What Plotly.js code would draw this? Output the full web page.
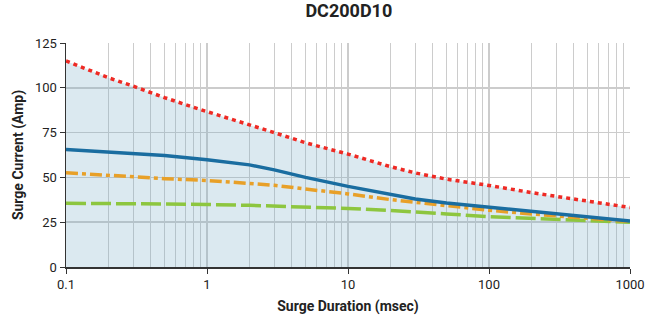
<!DOCTYPE html>
<html><head><meta charset="utf-8">
<script src="https://cdn.plot.ly/plotly-3.0.1.min.js"></script>
<style>html,body{margin:0;padding:0;background:#fff}#c{width:646px;height:324px}</style>
</head><body><div id="c"></div>
<script>
const duration = [0.1, 0.2, 0.3, 0.5, 1, 2, 3, 5, 10, 20, 30, 50, 100, 200, 300, 500, 1000];
const redMax   = [115, 105.6, 100.9, 94.5, 86.7, 79.5, 75, 69.3, 63, 56, 52.5, 49, 45.5, 41.5, 39.3, 36.6, 33.2];
const blueCur  = [65.6, 64.2, 63.4, 62.2, 59.8, 57, 54.2, 50, 45, 40.3, 38, 35.7, 33.4, 31.2, 29.9, 28, 25.6];
const orangeCur= [52.6, 51, 50.2, 49.3, 48.3, 46.8, 45.6, 43.5, 40.8, 37.6, 36, 34, 31.7, 29.6, 28.5, 27, 25.4];
const greenCur = [35.6, 35.5, 35.3, 35.1, 34.9, 34.4, 34, 33.4, 32.7, 31.5, 30.8, 29.6, 28.1, 27.2, 26.7, 26, 25];
const xTicks = [0.1, 1, 10, 100, 1000];
const xTickText = ['0.1', '1', '10', '100', '1000'];
const yTicks = [0, 25, 50, 75, 100, 125];

const FONT = 'Roboto, sans-serif';
const traces = [
  {x: duration, y: redMax, mode: 'lines', fill: 'tozeroy', fillcolor: 'rgba(111,167,195,0.25)',
   line: {color: '#ee2a24', width: 3.5, dash: '4px,4px'}},
  {x: duration, y: greenCur, mode: 'lines',
   line: {color: '#8dc63f', width: 3.5, dash: '20px,5px'}},
  {x: duration, y: orangeCur, mode: 'lines',
   line: {color: '#e8a028', width: 3.5, dash: '12px,4px,4px,4px'}},
  {x: duration, y: blueCur, mode: 'lines',
   line: {color: '#1a6da0', width: 3.5}}
];
const layout = {
  width: 646, height: 324,
  margin: {l: 66, r: 16, t: 43, b: 57},
  paper_bgcolor: '#fff', plot_bgcolor: '#fff',
  showlegend: false,
  font: {family: FONT, color: '#222', size: 13},
  title: {text: '<b>DC200D10</b>', x: 0.54, xanchor: 'center', y: 0.985, yanchor: 'top',
          font: {family: FONT, size: 18, color: '#222'}},
  xaxis: {type: 'log', range: [-1, 3], tickvals: xTicks, ticktext: xTickText,
          ticks: 'outside', ticklen: 5, tickcolor: '#333',
          showline: true, linecolor: '#333', linewidth: 1.5,
          showgrid: true, gridcolor: '#cccccc', gridwidth: 1.2,
          minor: {showgrid: true, gridcolor: '#cccccc', gridwidth: 1.2, dtick: 'D1'},
          tickfont: {size: 13, family: FONT, color: '#222'},
          title: {text: '<b>Surge Duration (msec)</b>', standoff: 10, font: {size: 14, family: FONT, color: '#222'}},
          zeroline: false},
  yaxis: {range: [0, 125], tickvals: yTicks, ticks: 'outside', ticklen: 5, tickcolor: '#333',
          showline: true, linecolor: '#333', linewidth: 1.5,
          showgrid: true, gridcolor: '#cccccc', gridwidth: 1.5,
          tickfont: {size: 13, family: FONT, color: '#222'},
          title: {text: '<b>Surge Current (Amp)</b>', standoff: 8, font: {size: 14, family: FONT, color: '#222'}},
          zeroline: false}
};
Plotly.newPlot('c', traces, layout, {staticPlot: true, displayModeBar: false});
</script></body></html>
